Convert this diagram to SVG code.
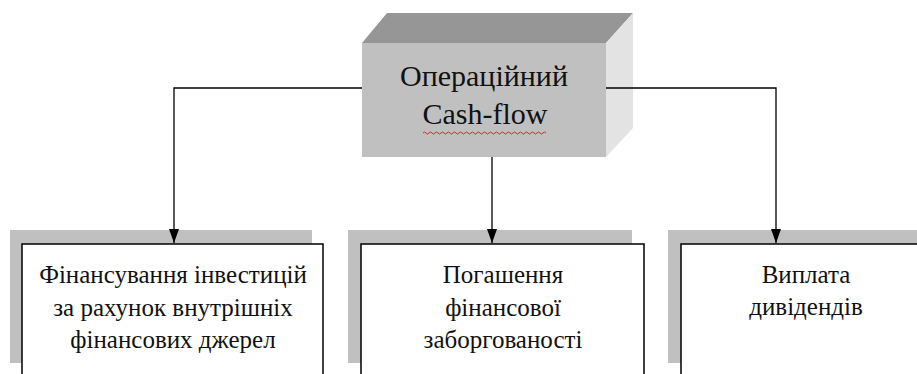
<svg xmlns="http://www.w3.org/2000/svg" width="917" height="374" viewBox="0 0 917 374">
<defs>
<style>
.t{font-family:'Liberation Serif','Times New Roman',serif;font-size:25px;fill:#111;text-anchor:middle}
.tt{font-size:30px}
.ln{stroke:#000;stroke-width:1.3;fill:none}
.sh{fill:#c0c0c0}
.bx{fill:#fff;stroke:#000;stroke-width:1.5}
</style>
<marker id="ar" viewBox="0 0 14 10" refX="14" refY="5" markerWidth="14" markerHeight="10" markerUnits="userSpaceOnUse" orient="auto">
<path d="M0,0 L14,5 L0,10 z" fill="#000"/>
</marker>
</defs>
<rect width="917" height="374" fill="#fff"/>
<g id="cashflow">
<polygon points="362,43 387,13 633,13 606,43" fill="#969696"/>
<polygon points="606,43 633,13 633,128 606,157" fill="#e3e3e3"/>
<rect x="362" y="43" width="244" height="114" fill="#c0c0c0"/>
<text class="t tt" x="484" y="86">Операційний</text>
<text class="t tt" x="485" y="124">Cash-flow</text>
<path d="M423,133 q1.5,-2 3,0 t3,0 t3,0 t3,0 t3,0 t3,0 t3,0 t3,0 t3,0 t3,0 t3,0 t3,0 t3,0 t3,0 t3,0 t3,0 t3,0 t3,0 t3,0 t3,0 t3,0 t3,0 t3,0 t3,0 t3,0 t3,0 t3,0 t3,0 t3,0 t3,0 t3,0 t3,0 t3,0 t3,0 t3,0 t3,0 t3,0 t3,0 t3,0 t3,0 t3,0" fill="none" stroke="#e02020" stroke-width="1"/>
</g>
<g id="node-invest">
<rect class="sh" x="10" y="230" width="302" height="133"/>
<rect class="bx" x="22" y="244" width="301" height="140"/>
<text class="t" x="173" y="283">Фінансування інвестицій</text>
<text class="t" x="173" y="316">за рахунок внутрішніх</text>
<text class="t" x="173" y="348">фінансових джерел</text>
</g>
<g id="node-debt">
<rect class="sh" x="348" y="230" width="284" height="133"/>
<rect class="bx" x="361" y="244" width="283" height="140"/>
<text class="t" x="503" y="283">Погашення</text>
<text class="t" x="503" y="316">фінансової</text>
<text class="t" x="503" y="348">заборгованості</text>
</g>
<g id="node-div">
<rect class="sh" x="668" y="230" width="260" height="133"/>
<rect class="bx" x="681" y="244" width="260" height="140"/>
<text class="t" x="806" y="283">Виплата</text>
<text class="t" x="806" y="315">дивідендів</text>
</g>
<g id="connectors">
<path class="ln" d="M362,88 H174 V243" marker-end="url(#ar)"/>
<path class="ln" d="M492,157 V243" marker-end="url(#ar)"/>
<path class="ln" d="M606,88 H776 V243" marker-end="url(#ar)"/>
</g>
</svg>
